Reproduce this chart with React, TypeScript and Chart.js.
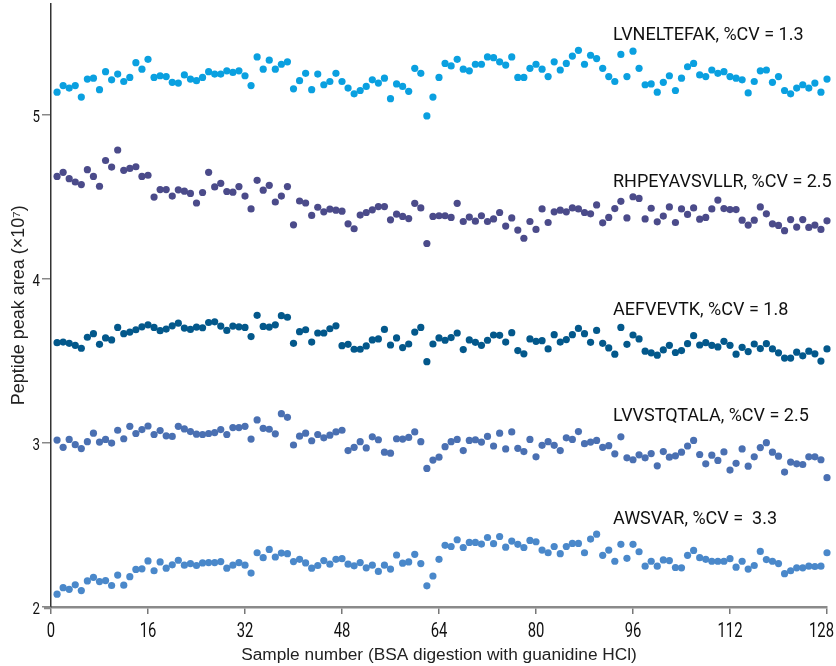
import React, { useEffect, useRef } from "react";
import { Chart, registerables } from "chart.js";

Chart.register(...registerables);

const seriesNames = ["LVNELTEFAK", "RHPEYAVSVLLR", "AEFVEVTK", "LVVSTQTALA", "AWSVAR"];
const labelTexts = [
  "LVNELTEFAK, %CV = 1.3",
  "RHPEYAVSVLLR, %CV = 2.5",
  "AEFVEVTK, %CV = 1.8",
  "LVVSTQTALA, %CV = 2.5",
  "AWSVAR, %CV =  3.3",
];
const xTicks = [0, 16, 32, 48, 64, 80, 96, 112, 128];
const yTicks = [2, 3, 4, 5];

const lvneltefak = [
  5.14, 5.18, 5.165, 5.18, 5.11, 5.22, 5.225, 5.155, 5.265, 5.215, 5.25, 5.205, 5.23, 5.32, 5.28, 5.34, 5.23, 5.24, 5.235, 5.2, 5.195, 5.245, 5.22, 5.21, 5.23, 5.265, 5.25, 5.25, 5.27, 5.26, 5.27, 5.24,
  5.18, 5.355, 5.28, 5.335, 5.28, 5.31, 5.325, 5.16, 5.21, 5.255, 5.155, 5.25, 5.185, 5.205, 5.255, 5.205, 5.165, 5.13, 5.15, 5.175, 5.215, 5.195, 5.225, 5.1, 5.19, 5.175, 5.145, 5.285, 5.255, 4.995, 5.11, 5.23,
  5.315, 5.3, 5.34, 5.28, 5.27, 5.31, 5.31, 5.355, 5.35, 5.325, 5.305, 5.355, 5.23, 5.23, 5.285, 5.31, 5.28, 5.235, 5.325, 5.275, 5.315, 5.36, 5.395, 5.31, 5.365, 5.345, 5.285, 5.235, 5.205, 5.37, 5.235, 5.39,
  5.285, 5.185, 5.19, 5.14, 5.2, 5.24, 5.15, 5.225, 5.295, 5.315, 5.245, 5.235, 5.275, 5.255, 5.265, 5.235, 5.225, 5.215, 5.135, 5.205, 5.27, 5.275, 5.2, 5.235, 5.15, 5.13, 5.165, 5.185, 5.165, 5.195, 5.14, 5.22,
];
const rhpeyavsvllr = [
  4.626, 4.651, 4.612, 4.592, 4.576, 4.667, 4.626, 4.566, 4.723, 4.683, 4.787, 4.663, 4.675, 4.685, 4.626, 4.633, 4.5, 4.546, 4.546, 4.506, 4.544, 4.536, 4.522, 4.464, 4.528, 4.651, 4.562, 4.584, 4.534, 4.53, 4.564, 4.506,
  4.428, 4.602, 4.542, 4.572, 4.47, 4.506, 4.564, 4.331, 4.476, 4.464, 4.388, 4.438, 4.41, 4.426, 4.42, 4.414, 4.337, 4.307, 4.39, 4.406, 4.422, 4.442, 4.442, 4.361, 4.396, 4.382, 4.369, 4.462, 4.434, 4.217, 4.382, 4.386,
  4.386, 4.376, 4.462, 4.351, 4.378, 4.353, 4.386, 4.351, 4.367, 4.406, 4.323, 4.373, 4.299, 4.249, 4.351, 4.303, 4.428, 4.345, 4.41, 4.42, 4.41, 4.434, 4.428, 4.406, 4.398, 4.452, 4.343, 4.376, 4.43, 4.474, 4.373, 4.502,
  4.492, 4.367, 4.432, 4.349, 4.384, 4.44, 4.345, 4.428, 4.394, 4.434, 4.365, 4.376, 4.428, 4.482, 4.43, 4.424, 4.424, 4.359, 4.329, 4.359, 4.44, 4.398, 4.337, 4.327, 4.295, 4.363, 4.317, 4.363, 4.315, 4.329, 4.303, 4.355,
];
const aefvevtk = [
  3.612, 3.616, 3.608, 3.596, 3.578, 3.645, 3.667, 3.602, 3.641, 3.629, 3.705, 3.667, 3.677, 3.691, 3.709, 3.721, 3.705, 3.685, 3.695, 3.715, 3.731, 3.701, 3.693, 3.707, 3.703, 3.735, 3.739, 3.713, 3.687, 3.713, 3.709, 3.705,
  3.649, 3.779, 3.711, 3.707, 3.721, 3.777, 3.767, 3.608, 3.679, 3.691, 3.616, 3.671, 3.671, 3.697, 3.715, 3.594, 3.602, 3.572, 3.572, 3.592, 3.629, 3.635, 3.693, 3.598, 3.641, 3.582, 3.604, 3.677, 3.705, 3.496, 3.604, 3.641,
  3.627, 3.643, 3.671, 3.57, 3.629, 3.614, 3.596, 3.627, 3.659, 3.657, 3.616, 3.673, 3.564, 3.544, 3.635, 3.62, 3.624, 3.574, 3.661, 3.616, 3.631, 3.661, 3.699, 3.667, 3.614, 3.687, 3.608, 3.58, 3.542, 3.705, 3.602, 3.659,
  3.635, 3.56, 3.55, 3.536, 3.568, 3.596, 3.552, 3.564, 3.606, 3.655, 3.598, 3.612, 3.596, 3.586, 3.62, 3.596, 3.542, 3.584, 3.558, 3.604, 3.576, 3.606, 3.574, 3.55, 3.518, 3.518, 3.554, 3.532, 3.56, 3.544, 3.5, 3.574,
];
const lvvstqtala = [
  3.018, 2.974, 3.022, 2.99, 2.966, 3.008, 3.06, 3.006, 3.022, 3.0, 3.078, 3.026, 3.102, 3.058, 3.082, 3.104, 3.052, 3.076, 3.044, 3.04, 3.102, 3.086, 3.07, 3.054, 3.052, 3.058, 3.064, 3.082, 3.052, 3.094, 3.094, 3.102,
  3.024, 3.141, 3.09, 3.084, 3.056, 3.179, 3.157, 2.988, 3.042, 3.06, 3.014, 3.052, 3.032, 3.048, 3.068, 3.078, 2.954, 2.974, 3.008, 2.97, 3.038, 3.02, 2.944, 2.938, 3.026, 3.024, 3.034, 3.068, 3.008, 2.845, 2.896, 2.914,
  2.978, 3.008, 3.022, 2.954, 3.016, 3.02, 3.006, 3.04, 2.982, 3.06, 2.964, 3.068, 2.968, 2.948, 3.022, 2.916, 2.986, 3.008, 2.986, 2.954, 3.032, 3.022, 3.07, 2.996, 3.006, 3.016, 2.974, 2.984, 2.934, 3.038, 2.91, 2.898,
  2.928, 2.91, 2.936, 2.861, 2.948, 2.914, 2.922, 2.944, 2.982, 3.016, 2.93, 2.873, 2.926, 2.894, 2.946, 2.835, 2.876, 2.964, 2.859, 2.916, 2.972, 3.002, 2.944, 2.92, 2.823, 2.884, 2.873, 2.869, 2.916, 2.916, 2.898, 2.789,
];
const awsvar = [
  2.078, 2.118, 2.108, 2.135, 2.1, 2.159, 2.181, 2.155, 2.161, 2.131, 2.195, 2.133, 2.185, 2.229, 2.233, 2.281, 2.221, 2.275, 2.237, 2.257, 2.285, 2.255, 2.265, 2.253, 2.269, 2.271, 2.271, 2.277, 2.237, 2.255, 2.271, 2.255,
  2.207, 2.331, 2.301, 2.351, 2.305, 2.329, 2.325, 2.277, 2.291, 2.269, 2.237, 2.253, 2.283, 2.261, 2.291, 2.295, 2.261, 2.251, 2.271, 2.239, 2.255, 2.217, 2.255, 2.231, 2.317, 2.267, 2.275, 2.321, 2.265, 2.129, 2.189, 2.291,
  2.376, 2.369, 2.41, 2.363, 2.394, 2.394, 2.384, 2.424, 2.386, 2.43, 2.365, 2.402, 2.382, 2.363, 2.406, 2.398, 2.347, 2.331, 2.369, 2.325, 2.369, 2.388, 2.388, 2.331, 2.414, 2.444, 2.315, 2.347, 2.279, 2.382, 2.297, 2.382,
  2.337, 2.249, 2.279, 2.249, 2.287, 2.283, 2.241, 2.239, 2.315, 2.345, 2.301, 2.291, 2.279, 2.279, 2.279, 2.295, 2.243, 2.279, 2.231, 2.253, 2.339, 2.289, 2.279, 2.265, 2.203, 2.221, 2.239, 2.239, 2.249, 2.247, 2.249, 2.331,
];

const seriesValues = [lvneltefak, rhpeyavsvllr, aefvevtk, lvvstqtala, awsvar];
const seriesColors = ["#0AA0E0", "#4B4B8A", "#03588B", "#4A70B2", "#4A88CA"];

// annotation anchor (data coordinates)
const labelAnchorX = 92.7;
const labelAnchorY = [5.488, 4.591, 3.809, 3.164, 2.536];

const narrowFamily = "Roboto, 'Liberation Sans', sans-serif";
const titleFamily = "'Liberation Sans', Arial, sans-serif";

function drawCondensed(ctx: any, text: string, x: number, y: number, align: string, squeeze: number) {
  const w = ctx.measureText(text).width * squeeze;
  let left = x;
  if (align === "center") left = x - w / 2;
  else if (align === "right") left = x - w;
  const maxRight = ctx.canvas.width - 2;
  if (left + w > maxRight) left = maxRight - w;
  ctx.save();
  ctx.translate(left, y);
  ctx.scale(squeeze, 1);
  ctx.textAlign = "left";
  ctx.fillText(text, 0, 0);
  ctx.restore();
}

const textPlugin = {
  id: "condensedText",
  beforeDatasetsDraw(chart: any) {
    const { ctx, chartArea } = chart;
    ctx.save();
    ctx.strokeStyle = "#8a8a8a";
    ctx.lineWidth = 2.5;
    ctx.beginPath();
    ctx.moveTo(chartArea.left - 7, chartArea.bottom + 1);
    ctx.lineTo(chartArea.left, chartArea.bottom + 1);
    ctx.stroke();
    ctx.restore();
  },
  afterDraw(chart: any) {
    const { ctx, scales, chartArea } = chart;
    ctx.save();
    ctx.fillStyle = "#111";
    ctx.textBaseline = "alphabetic";
    // x tick labels
    ctx.font = `20px ${narrowFamily}`;
    xTicks.forEach((v) => {
      drawCondensed(ctx, String(v), scales.x.getPixelForValue(v), chartArea.bottom + 30, "center", 0.74);
    });
    // y tick labels
    ctx.font = `17px ${narrowFamily}`;
    yTicks.forEach((v) => {
      drawCondensed(ctx, String(v), chartArea.left - 11, scales.y.getPixelForValue(v) + 7, "right", 0.78);
    });
    // series annotations
    ctx.font = `18px ${narrowFamily}`;
    ctx.textBaseline = "middle";
    labelTexts.forEach((t, i) => {
      drawCondensed(ctx, t, scales.x.getPixelForValue(labelAnchorX), scales.y.getPixelForValue(labelAnchorY[i]), "left", 1.0);
    });
    ctx.restore();
  },
};

export default function App() {
  const ref = useRef<HTMLCanvasElement>(null);
  useEffect(() => {
    if (!ref.current) return;
    const chart = new Chart(ref.current, {
      type: "scatter",
      data: {
        datasets: seriesNames.map((name, i) => ({
          label: name,
          data: seriesValues[i].map((v, j) => ({ x: j + 1, y: v })),
          backgroundColor: seriesColors[i],
          borderColor: seriesColors[i],
          borderWidth: 0,
          pointRadius: 3.6,
          pointHoverRadius: 3.6,
          clip: false as any,
        })),
      },
      options: {
        animation: false,
        responsive: true,
        maintainAspectRatio: false,
        layout: { padding: { left: 0, top: 0, right: 9, bottom: 0 } },
        plugins: { legend: { display: false }, tooltip: { enabled: false } },
        scales: {
          x: {
            type: "linear",
            min: 0,
            max: 128,
            afterBuildTicks: (s: any) => {
              s.ticks = xTicks.map((v) => ({ value: v }));
            },
            afterFit: (s: any) => {
              s.height = 59;
              s.paddingLeft = 0;
              s.paddingRight = 0;
            },
            ticks: { display: false },
            grid: { drawOnChartArea: false, drawTicks: true, tickLength: 7, color: "#777", lineWidth: 1.5 },
            border: { display: true, color: "#8a8a8a", width: 2.5 },
            title: {
              display: true,
              text: "Sample number (BSA digestion with guanidine HCl)",
              font: { size: 17.3, family: titleFamily },
              color: "#222",
              padding: { top: 0, bottom: 0 },
            },
          },
          y: {
            type: "linear",
            min: 2,
            max: 5.68,
            afterBuildTicks: (s: any) => {
              s.ticks = yTicks.map((v) => ({ value: v }));
            },
            afterFit: (s: any) => {
              s.width = 51;
              s.paddingTop = 0;
              s.paddingBottom = 0;
            },
            ticks: { display: false },
            grid: { drawOnChartArea: false, drawTicks: true, tickLength: 9, color: "#888", lineWidth: 1.5 },
            border: { display: true, color: "#333", width: 1.5 },
            title: {
              display: true,
              text: "Peptide peak area (×10⁷)",
              font: { size: 18, family: titleFamily },
              color: "#222",
              padding: { top: 8, bottom: 0 },
            },
          },
        },
      },
      plugins: [textPlugin],
    });
    return () => chart.destroy();
  }, []);
  return (
    <div style={{ position: "absolute", left: 0, top: 0, width: 836, height: 666 }}>
      <canvas ref={ref} />
    </div>
  );
}
